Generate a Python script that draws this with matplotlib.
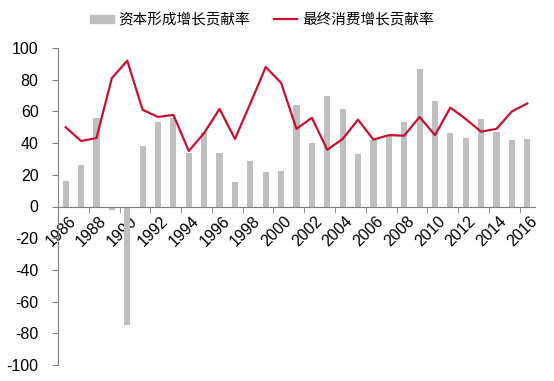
import numpy as np
import matplotlib.pyplot as plt
from matplotlib.patches import Patch
from matplotlib.lines import Line2D

plt.rcParams['font.family'] = ['Liberation Sans', 'Noto Sans CJK SC', 'DejaVu Sans']
plt.rcParams['axes.unicode_minus'] = False

years = list(range(1986, 2017))
capital = [16, 26, 56, -2, -75, 38, 53, 56, 34, 47, 34, 15.5, 28.5, 21.5, 22.5,
           64, 40, 69.5, 61.5, 33, 42, 44.5, 53, 87, 66.5, 46.5, 43, 55, 47, 42, 42.5]
consumption = [50, 41.3, 43.2, 81, 92, 61, 56.5, 57.8, 35, 46.4, 61.6, 42.6, 65, 88, 78,
               49, 56, 35.8, 42.6, 54.8, 42.2, 45, 44.7, 56.5, 45, 62.4, 55.2, 47.2, 49, 60, 65]
bar_label = '资本形成增长贡献率'
line_label = '最终消费增长贡献率'

bar_color = '#BFBFBF'
line_color = '#C8102E'

fig = plt.figure(figsize=(5.54, 3.81), dpi=100)
ax = fig.add_axes([58 / 554, 1 - 365 / 381, 477 / 554, 317 / 381])

x = np.arange(len(years))
ax.bar(x, capital, width=0.4, color=bar_color, zorder=2)
ax.plot(x, consumption, color=line_color, lw=1.6, zorder=3)

ax.set_xlim(-0.5, len(years) - 0.5)
ax.set_ylim(-100, 100)
ax.set_yticks(range(-100, 101, 20))
ax.tick_params(axis='y', labelsize=11.5, length=4, color='#808080', pad=10)

for s in ['top', 'right']:
    ax.spines[s].set_visible(False)
ax.spines['bottom'].set_position(('data', 0))
ax.spines['left'].set_color('#808080')
ax.spines['bottom'].set_color('#808080')

ax.set_xticks(x[::2] + 0.15)
ax.set_xticklabels([str(y) for y in years[::2]], rotation=45, ha='right',
                   va='top', rotation_mode='anchor', fontsize=11.5)
ax.tick_params(axis='x', which='major', length=0, pad=5)
ax.set_xticks(np.arange(1.5, len(years) - 1, 2), minor=True)
ax.tick_params(axis='x', which='minor', length=4, color='#808080')

handles = [Patch(color=bar_color), Line2D([0], [0], color=line_color, lw=1.6)]
fig.legend(handles, [bar_label, line_label], loc='center', bbox_to_anchor=(0.473, 0.948),
           ncol=2, frameon=False, handlelength=1.6, handleheight=0.45, handletextpad=0.35,
           columnspacing=1.6, prop={'family': ['Noto Sans CJK SC'], 'size': 10.5})

fig.savefig('out.png', dpi=100)
